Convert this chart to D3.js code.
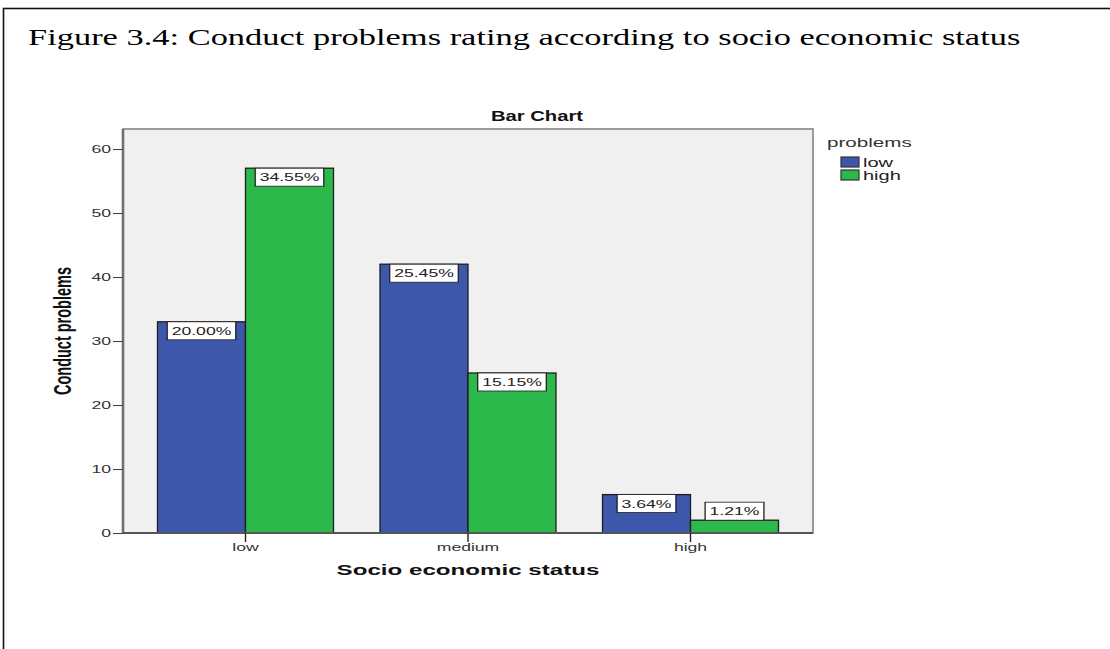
<!DOCTYPE html>
<html>
<head>
<meta charset="utf-8">
<script src="https://cdn.jsdelivr.net/npm/d3@7/dist/d3.min.js"></script>
<style>
  body { margin: 0; background: #ffffff; }
  svg { display: block; }
</style>
</head>
<body>
<svg id="chart" width="1110" height="649"></svg>
<script>
// ---- data -------------------------------------------------------------
const categories = ["low", "medium", "high"];          // socio economic status
const seriesNames = ["low", "high"];                    // conduct problems
const lowCounts = [33, 42, 6];
const highCounts = [57, 25, 2];
const yTicks = [0, 10, 20, 30, 40, 50, 60];
const seriesColors = ["#3d57ab", "#2db84b"];

const figureTitle = "Figure 3.4: Conduct problems rating according to socio economic status";
const chartTitle = "Bar Chart";
const xTitle = "Socio economic status";
const yTitle = "Conduct problems";
const legendTitle = "problems";

// ---- layout -----------------------------------------------------------
const svg = d3.select("#chart");
const plot = { left: 123, right: 813, top: 129, bottom: 533 };
const SX = 1.6;           // horizontal stretch of the chart lettering
const SANS = "'Liberation Sans', Arial, sans-serif";

const total = d3.sum(lowCounts) + d3.sum(highCounts);
const rows = categories.map((c, i) => ({
  category: c,
  values: [lowCounts[i], highCounts[i]]
}));

const x = d3.scaleBand()
  .domain(categories)
  .range([plot.left, plot.right])
  .paddingInner(0.209)
  .paddingOuter(0.155);

const xs = d3.scaleBand()
  .domain(seriesNames)
  .range([0, x.bandwidth()]);

const y = d3.scaleLinear()
  .domain([0, 60])
  .range([plot.bottom, 149]);

// text drawn with a horizontal stretch
function stretched(parent, px, py, str, opt) {
  return parent.append("text")
    .attr("transform", `translate(${px},${py}) scale(${opt.sx || SX},1)`)
    .attr("text-anchor", opt.anchor || "start")
    .attr("font-family", opt.family || SANS)
    .attr("font-size", opt.size)
    .attr("font-weight", opt.weight || "normal")
    .attr("fill", opt.fill || "#222")
    .text(str);
}

// outer figure frame
svg.append("rect")
  .attr("x", 3.5).attr("y", 8.5)
  .attr("width", 1200).attr("height", 800)
  .attr("fill", "none").attr("stroke", "#111").attr("stroke-width", 1.6);

// figure caption
stretched(svg, 28, 45, figureTitle, {
  size: 22.5, family: "'Liberation Serif', 'Times New Roman', serif", sx: 1.53, fill: "#000"
});

// chart title
stretched(svg, 537, 121, chartTitle, { size: 15, weight: "bold", sx: 1.35, anchor: "middle", fill: "#111" });

// plot background
svg.append("rect")
  .attr("x", plot.left).attr("y", plot.top)
  .attr("width", plot.right - plot.left).attr("height", plot.bottom - plot.top)
  .attr("fill", "#f0f0f0")
  .attr("stroke", "#858585").attr("stroke-width", 1.6);

// bars
const groups = svg.append("g").selectAll("g")
  .data(rows).join("g")
  .attr("transform", d => `translate(${x(d.category)},0)`);

groups.selectAll("rect")
  .data(d => d.values.map((v, j) => ({ series: seriesNames[j], value: v, j })))
  .join("rect")
  .attr("x", d => xs(d.series))
  .attr("y", d => y(d.value))
  .attr("width", xs.bandwidth())
  .attr("height", d => y(0) - y(d.value))
  .attr("fill", d => seriesColors[d.j])
  .attr("stroke", "#1e1e1e")
  .attr("stroke-width", 1.3);

// percentage labels in white boxes
const labelH = 18;
groups.each(function (row) {
  const g = d3.select(this);
  row.values.forEach((v, j) => {
    const cx = xs(seriesNames[j]) + xs.bandwidth() / 2;
    const barTop = y(v);
    const inside = (y(0) - barTop) > labelH + 2;
    const top = inside ? barTop : barTop - labelH;
    const lab = g.append("g")
      .attr("transform", `translate(${cx},${top}) scale(${SX},1)`);
    const t = lab.append("text")
      .attr("x", 0).attr("y", 13)
      .attr("text-anchor", "middle")
      .attr("font-family", SANS)
      .attr("font-size", 11)
      .attr("fill", "#222")
      .text((v / total * 100).toFixed(2) + "%");
    const bb = t.node().getBBox();
    const pad = 2.8;
    lab.insert("rect", "text")
      .attr("x", bb.x - pad).attr("y", 0)
      .attr("width", bb.width + pad * 2).attr("height", labelH)
      .attr("fill", "#ffffff")
      .attr("stroke", "#1e1e1e").attr("stroke-width", 0.8);
  });
});

// y axis
const yAxis = svg.append("g")
  .attr("transform", `translate(${plot.left},0)`)
  .call(d3.axisLeft(y).tickValues(yTicks).tickSize(10).tickPadding(2).tickSizeOuter(0));
yAxis.select(".domain")
  .attr("d", `M0,${plot.top}V${plot.bottom}`)
  .attr("stroke", "#6f6f6f").attr("stroke-width", 2.6);
yAxis.selectAll(".tick line").attr("stroke", "#444").attr("stroke-width", 1.1);
yAxis.selectAll(".tick text")
  .attr("font-family", SANS).attr("font-size", 11).attr("fill", "#333")
  .attr("x", -12 / SX)
  .attr("transform", `scale(${SX},1)`);

// x axis
const xAxis = svg.append("g")
  .attr("transform", `translate(0,${plot.bottom})`)
  .call(d3.axisBottom(x).tickSize(9).tickPadding(0).tickSizeOuter(0));
xAxis.select(".domain")
  .attr("d", `M${plot.left},0H${plot.right}`)
  .attr("stroke", "#555").attr("stroke-width", 1.8);
xAxis.selectAll(".tick line").attr("stroke", "#222").attr("stroke-width", 1.4);
xAxis.selectAll(".tick text").remove();
xAxis.selectAll(".tick").each(function (d) {
  stretched(d3.select(this), 0, 18, d, { size: 11, anchor: "middle", fill: "#333" });
});

// axis titles
stretched(svg, (plot.left + plot.right) / 2, 575, xTitle, { size: 15, weight: "bold", anchor: "middle", sx: 1.61, fill: "#111" });

svg.append("text")
  .attr("transform", `translate(71,331) rotate(-90) scale(1,${SX})`)
  .attr("text-anchor", "middle")
  .attr("font-family", SANS)
  .attr("font-size", 14.5)
  .attr("font-weight", "bold")
  .attr("fill", "#111")
  .text(yTitle);

// legend
const legend = svg.append("g");
stretched(legend, 827, 146.5, legendTitle, { size: 12.5, sx: 1.65, fill: "#333" });
seriesNames.forEach((s, j) => {
  const top = 157 + j * 13;
  legend.append("rect")
    .attr("x", 841).attr("y", top)
    .attr("width", 18).attr("height", 10)
    .attr("fill", seriesColors[j])
    .attr("stroke", "#333").attr("stroke-width", 1.2);
  stretched(legend, 863, top + 9.5, s, { size: 12.5, sx: 1.6, fill: "#222" });
});
</script>
</body>
</html>
